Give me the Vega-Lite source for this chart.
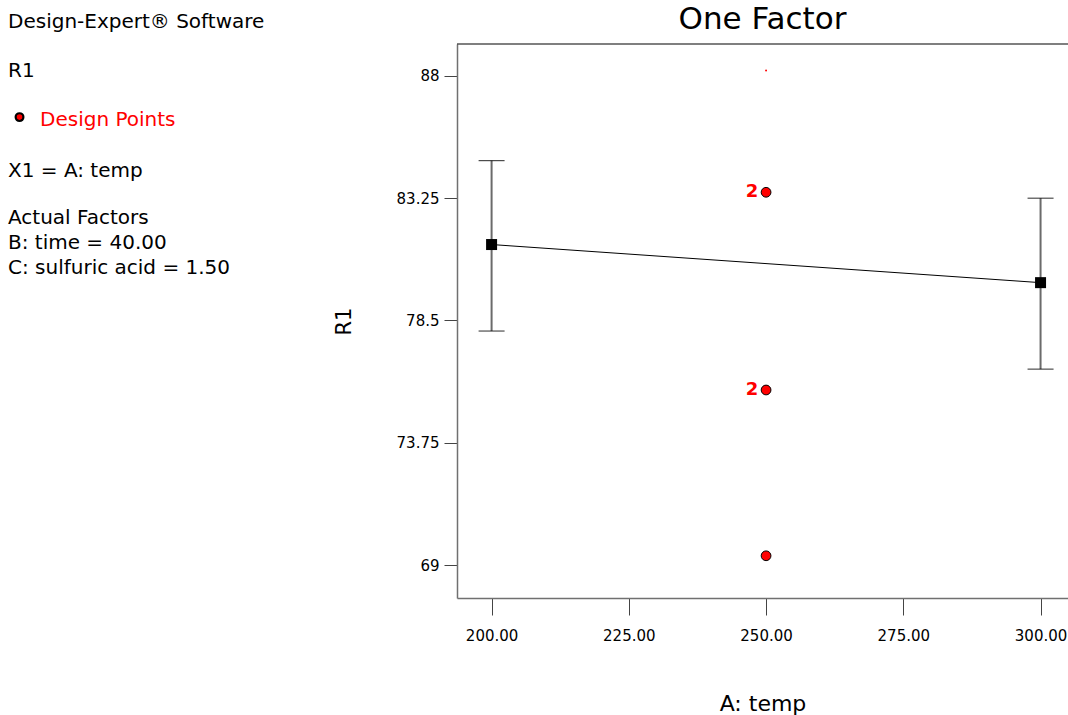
{
  "$schema": "https://vega.github.io/schema/vega-lite/v6.json",
  "width": 611,
  "height": 554,
  "autosize": {"type": "none"},
  "padding": {"left": 457, "top": 44, "right": 0, "bottom": 117},
  "background": "white",
  "title": {
    "text": "One Factor",
    "font": "DejaVu Sans",
    "fontSize": 31,
    "fontWeight": "normal",
    "color": "black",
    "anchor": "middle",
    "frame": "group",
    "baseline": "alphabetic",
    "offset": -48
  },
  "config": {
    "view": {"stroke": null},
    "font": "DejaVu Sans",
    "axis": {
      "grid": false,
      "labelFont": "DejaVu Sans",
      "labelFontSize": 15,
      "labelColor": "black",
      "labelFlush": false,
      "labelOverlap": false,
      "labelBound": false,
      "tickColor": "#444444",
      "tickWidth": 1,
      "domainColor": "#707070",
      "domainWidth": 1.5,
      "titleFont": "DejaVu Sans",
      "titleFontWeight": "normal",
      "titleColor": "black"
    }
  },
  "datasets": {
    "means": [
      {"A": 200, "R1": 81.45, "lo": 78.09, "hi": 84.71},
      {"A": 300, "R1": 79.97, "lo": 76.61, "hi": 83.25}
    ],
    "design": [
      {"A": 250, "R1": 88.21, "count": 1},
      {"A": 250, "R1": 83.48, "count": 2},
      {"A": 250, "R1": 75.8, "count": 2},
      {"A": 250, "R1": 69.36, "count": 1}
    ],
    "notes": [
      {"label": "Design-Expert® Software", "nx": 111.91, "ny": 90.106},
      {"label": "R1", "nx": 111.91, "ny": 88.18},
      {"label": "Design Points", "nx": 117.74, "ny": 86.307},
      {"label": "X1 = A: temp", "nx": 111.91, "ny": 84.325},
      {"label": "Actual Factors", "nx": 111.91, "ny": 82.468},
      {"label": "B: time = 40.00", "nx": 111.91, "ny": 81.497},
      {"label": "C: sulfuric acid  = 1.50", "nx": 111.91, "ny": 80.549}
    ],
    "legendMark": [
      {"nx": 114.01, "ny": 86.4}
    ],
    "frame": [
      {"x1": 193.7, "x2": 305.0, "top": 89.24}
    ]
  },
  "layer": [
    {
      "data": {"name": "means"},
      "mark": {"type": "rule", "color": "#6b6b6b", "strokeWidth": 2},
      "encoding": {
        "x": {
          "field": "A", "type": "quantitative",
          "scale": {"domain": [193.7, 305.0], "nice": false, "zero": false},
          "axis": {
            "title": "A: temp",
            "values": [200, 225, 250, 275, 300],
            "format": ".2f",
            "tickSize": 17,
            "labelPadding": 13,
            "titleFontSize": 22,
            "titlePadding": 50
          }
        },
        "y": {
          "field": "lo", "type": "quantitative",
          "scale": {"domain": [67.72, 89.24], "nice": false, "zero": false},
          "axis": {
            "title": "R1",
            "values": [69, 73.75, 78.5, 83.25, 88],
            "labelExpr": "'' + datum.value",
            "tickSize": 13,
            "labelPadding": 5,
            "titleFontSize": 21,
            "titlePadding": 42
          }
        },
        "y2": {"field": "hi"}
      }
    },
    {
      "data": {"name": "frame"},
      "mark": {"type": "rule", "color": "black", "strokeWidth": 1.2},
      "encoding": {
        "x": {"field": "x1", "type": "quantitative", "scale": {"domain": [193.7, 305.0], "nice": false, "zero": false}},
        "x2": {"field": "x2"},
        "y": {"field": "top", "type": "quantitative", "scale": {"domain": [67.72, 89.24], "nice": false, "zero": false}}
      }
    },
    {
      "data": {"name": "means"},
      "mark": {"type": "tick", "orient": "horizontal", "color": "black", "size": 26, "thickness": 1.2},
      "encoding": {
        "x": {"field": "A", "type": "quantitative", "scale": {"domain": [193.7, 305.0], "nice": false, "zero": false}},
        "y": {"field": "lo", "type": "quantitative", "scale": {"domain": [67.72, 89.24], "nice": false, "zero": false}}
      }
    },
    {
      "data": {"name": "means"},
      "mark": {"type": "tick", "orient": "horizontal", "color": "black", "size": 26, "thickness": 1.2},
      "encoding": {
        "x": {"field": "A", "type": "quantitative", "scale": {"domain": [193.7, 305.0], "nice": false, "zero": false}},
        "y": {"field": "hi", "type": "quantitative", "scale": {"domain": [67.72, 89.24], "nice": false, "zero": false}}
      }
    },
    {
      "data": {"name": "means"},
      "mark": {"type": "line", "color": "black", "strokeWidth": 1},
      "encoding": {
        "x": {"field": "A", "type": "quantitative", "scale": {"domain": [193.7, 305.0], "nice": false, "zero": false}},
        "y": {"field": "R1", "type": "quantitative", "scale": {"domain": [67.72, 89.24], "nice": false, "zero": false}}
      }
    },
    {
      "data": {"name": "means"},
      "mark": {"type": "point", "shape": "square", "filled": true, "color": "black", "size": 121, "opacity": 1},
      "encoding": {
        "x": {"field": "A", "type": "quantitative", "scale": {"domain": [193.7, 305.0], "nice": false, "zero": false}},
        "y": {"field": "R1", "type": "quantitative", "scale": {"domain": [67.72, 89.24], "nice": false, "zero": false}}
      }
    },
    {
      "data": {"name": "design"},
      "transform": [{"filter": "datum.R1 < 88"}],
      "mark": {"type": "point", "shape": "circle", "filled": true, "fill": "#ff0000", "stroke": "black", "strokeWidth": 1, "size": 95, "opacity": 1},
      "encoding": {
        "x": {"field": "A", "type": "quantitative", "scale": {"domain": [193.7, 305.0], "nice": false, "zero": false}},
        "y": {"field": "R1", "type": "quantitative", "scale": {"domain": [67.72, 89.24], "nice": false, "zero": false}}
      }
    },
    {
      "data": {"name": "design"},
      "transform": [{"filter": "datum.R1 >= 88"}],
      "mark": {"type": "point", "shape": "circle", "filled": true, "color": "#ff0000", "size": 4, "opacity": 1},
      "encoding": {
        "x": {"field": "A", "type": "quantitative", "scale": {"domain": [193.7, 305.0], "nice": false, "zero": false}},
        "y": {"field": "R1", "type": "quantitative", "scale": {"domain": [67.72, 89.24], "nice": false, "zero": false}}
      }
    },
    {
      "data": {"name": "design"},
      "transform": [{"filter": "datum.count > 1"}],
      "mark": {"type": "text", "color": "#ff0000", "font": "DejaVu Sans", "fontSize": 18, "fontWeight": "bold", "align": "center", "baseline": "middle", "dx": -14},
      "encoding": {
        "x": {"field": "A", "type": "quantitative", "scale": {"domain": [193.7, 305.0], "nice": false, "zero": false}},
        "y": {"field": "R1", "type": "quantitative", "scale": {"domain": [67.72, 89.24], "nice": false, "zero": false}},
        "text": {"field": "count", "type": "nominal"}
      }
    },
    {
      "data": {"name": "notes"},
      "mark": {"type": "text", "font": "DejaVu Sans", "fontSize": 20, "align": "left", "baseline": "middle"},
      "encoding": {
        "x": {"field": "nx", "type": "quantitative", "scale": {"domain": [193.7, 305.0], "nice": false, "zero": false}},
        "y": {"field": "ny", "type": "quantitative", "scale": {"domain": [67.72, 89.24], "nice": false, "zero": false}},
        "text": {"field": "label", "type": "nominal"},
        "color": {
          "condition": {"test": "datum.label === 'Design Points'", "value": "#ff0000"},
          "value": "black"
        }
      }
    },
    {
      "data": {"name": "legendMark"},
      "mark": {"type": "point", "shape": "circle", "filled": true, "fill": "#ff0000", "stroke": "black", "strokeWidth": 2.2, "size": 60, "opacity": 1},
      "encoding": {
        "x": {"field": "nx", "type": "quantitative", "scale": {"domain": [193.7, 305.0], "nice": false, "zero": false}},
        "y": {"field": "ny", "type": "quantitative", "scale": {"domain": [67.72, 89.24], "nice": false, "zero": false}}
      }
    }
  ]
}
